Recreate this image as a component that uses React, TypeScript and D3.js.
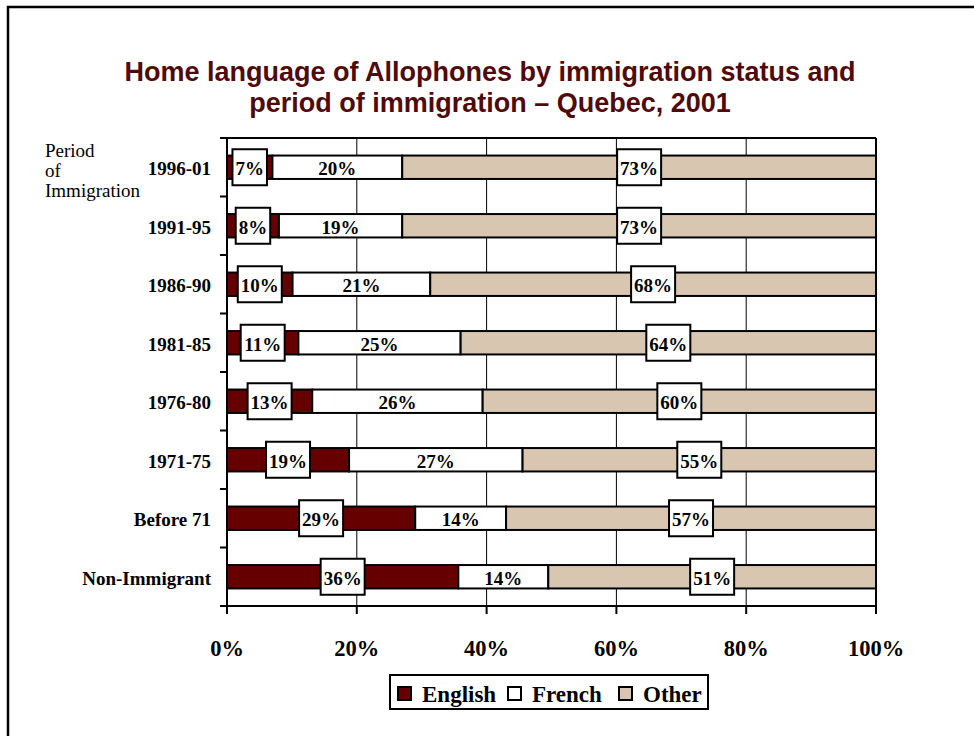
import React from 'react';
import * as d3 from 'd3';

const categories = ['1996-01', '1991-95', '1986-90', '1981-85', '1976-80', '1971-75', 'Before 71', 'Non-Immigrant'];
const english = [7, 8, 10, 11, 13, 19, 29, 36];
const french = [20, 19, 21, 25, 26, 27, 14, 14];
const other = [73, 73, 68, 64, 60, 55, 57, 51];
const seriesNames = ['English', 'French', 'Other'];
const seriesColors = ['#660000', '#ffffff', '#d9c6b1'];
const xTicks = [0, 0.2, 0.4, 0.6, 0.8, 1];
const titleLines = ['Home language of Allophones by immigration status and', 'period of immigration \u2013 Quebec, 2001'];
const yAxisTitle = ['Period', 'of', 'Immigration'];

const W = 974;
const H = 736;
const plot = { left: 227, right: 876, top: 138, bottom: 606 };
const serif = '"Liberation Serif", "Times New Roman", serif';
const sans = '"Liberation Sans", Arial, sans-serif';

function labelWidth(s: string, fs: number) {
  let w = 0;
  for (const c of s) w += c === '%' ? 1.0 : 0.5;
  return w * fs;
}

export default function App() {
  const rows = categories.map((c, i) => ({ cat: c, English: english[i], French: french[i], Other: other[i] }));
  const stack = d3.stack<any>().keys(seriesNames).offset(d3.stackOffsetExpand);
  const layers = stack(rows);
  const x = d3.scaleLinear().domain([0, 1]).range([plot.left, plot.right]);
  const y = d3.scaleBand().domain(categories).range([plot.top, plot.bottom]).paddingInner(0.6).paddingOuter(0.3);
  const yOuter = d3.scaleBand().domain(categories).range([plot.top, plot.bottom]);
  const fs = 19;

  return (
    <svg width={W} height={H} style={{ position: 'absolute', left: 0, top: 0, display: 'block', background: '#fff' }}>
      <rect x={8} y={7} width={W + 20} height={H + 20} fill="#fff" stroke="#000" strokeWidth={2.5} />
      {titleLines.map((t, i) => (
        <text key={i} x={490} y={81 + i * 31} textAnchor="middle" fontFamily={sans} fontWeight="bold" fontSize={27} fill="#500a0a">{t}</text>
      ))}
      {yAxisTitle.map((t, i) => (
        <text key={i} x={45} y={157 + i * 20} fontFamily={serif} fontSize={19} fill="#000">{t}</text>
      ))}
      {/* gridlines */}
      {xTicks.slice(1, -1).map(t => (
        <line key={t} x1={x(t)} x2={x(t)} y1={plot.top} y2={plot.bottom} stroke="#000" strokeWidth={1} />
      ))}
      <line x1={plot.left} x2={plot.right} y1={plot.top} y2={plot.top} stroke="#000" strokeWidth={2} />
      <line x1={plot.right} x2={plot.right} y1={plot.top} y2={plot.bottom} stroke="#000" strokeWidth={2} />
      {/* bars */}
      {layers.map((layer, li) => (
        <g key={layer.key}>
          {layer.map((d, i) => (
            <rect key={i} x={x(d[0])} y={y(categories[i])!} width={x(d[1]) - x(d[0])} height={y.bandwidth()}
              fill={seriesColors[li]} stroke="#000" strokeWidth={2} />
          ))}
        </g>
      ))}
      {/* labels */}
      {layers.map((layer, li) => (
        <g key={layer.key + 'l'}>
          {layer.map((d, i) => {
            const v = [english, french, other][li][i];
            const s = v + '%';
            const cx = (x(d[0]) + x(d[1])) / 2;
            const cy = y(categories[i])! + y.bandwidth() / 2;
            const tw = labelWidth(s, fs);
            return (
              <g key={i}>
                {li !== 1 && (
                  <rect x={cx - tw / 2 - 3} y={cy - 18} width={tw + 6} height={36} fill="#fff" stroke="#000" strokeWidth={2} />
                )}
                <text x={cx} y={cy + 8} textAnchor="middle" fontFamily={serif} fontWeight="bold" fontSize={fs} fill="#000">{s}</text>
              </g>
            );
          })}
        </g>
      ))}
      {/* axes */}
      <line x1={plot.left} x2={plot.left} y1={plot.top} y2={plot.bottom + 8} stroke="#000" strokeWidth={2} />
      <line x1={plot.left - 7} x2={plot.right} y1={plot.bottom} y2={plot.bottom} stroke="#000" strokeWidth={2} />
      {categories.map((c, i) => (
        <line key={c} x1={plot.left - 7} x2={plot.left} y1={yOuter(c)!} y2={yOuter(c)!} stroke="#000" strokeWidth={2} />
      ))}
      {xTicks.map(t => (
        <g key={t}>
          <line x1={x(t)} x2={x(t)} y1={plot.bottom} y2={plot.bottom + 8} stroke="#000" strokeWidth={2} />
          <text x={x(t)} y={656} textAnchor="middle" fontFamily={serif} fontWeight="bold" fontSize={22.5}>{d3.format('.0%')(t)}</text>
        </g>
      ))}
      {categories.map(c => (
        <text key={c} x={211} y={y(c)! + y.bandwidth() / 2 + 8} textAnchor="end" fontFamily={serif} fontWeight="bold" fontSize={fs}>{c}</text>
      ))}
      {/* legend */}
      <rect x={390} y={675} width={318} height={34} fill="#fff" stroke="#000" strokeWidth={2} />
      {seriesNames.map((n, i) => {
        const sx = [398, 508, 619][i];
        return (
          <g key={n}>
            <rect x={sx} y={687} width={13} height={13} fill={seriesColors[i]} stroke="#000" strokeWidth={2} />
            <text x={sx + 24} y={702} fontFamily={serif} fontWeight="bold" fontSize={23}>{n}</text>
          </g>
        );
      })}
    </svg>
  );
}
